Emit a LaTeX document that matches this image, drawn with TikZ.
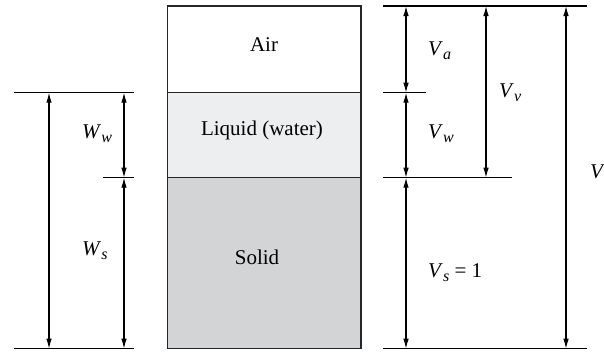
\documentclass[tikz,border=0pt]{standalone}
\usepackage{fontspec}
\setmainfont{Liberation Serif}
\usetikzlibrary{arrows.meta, positioning}
\definecolor{liquidgray}{HTML}{EDEEF0}
\definecolor{solidgray}{HTML}{D3D4D6}
\newcommand{\dimlbl}[2]{\textit{#1}\raisebox{-0.22em}{\fontsize{16}{16}\selectfont\textit{#2}}}

\begin{document}
\begin{tikzpicture}[x=1pt, y=-1pt, font=\fontsize{21}{25}\selectfont]
    \tikzstyle{phase} = [rectangle, draw=black!85, line width=1.3pt,
        outer sep=0pt, inner sep=0pt, minimum width=193.5pt]
    \tikzstyle{refline} = [draw, line width=1.1pt, -]
    \tikzstyle{dim} = [draw, line width=1.1pt,
        {Latex[length=10pt,width=5.5pt]}-{Latex[length=10pt,width=5.5pt]}]
    \tikzstyle{lbl} = [anchor=base west, inner sep=0pt]

    \useasboundingbox (0,0) rectangle (604,354);
    \node [phase, minimum height=86.7pt] (air) at (264.25,49.35) {};
    \node [phase, fill=liquidgray, minimum height=85pt, below=0pt of air] (liquid) {};
    \node [phase, fill=solidgray, minimum height=171pt, below=0pt of liquid] (solid) {};
    \node (airtxt) at (264,45) {Air};
    \node (liqtxt) at (262,130) {Liquid (water)};
    \node (soltxt) at (257,257) {Solid};
    %
    \coordinate [left=33.5pt of liquid.north west] (wtr);
    \coordinate [left=120pt of wtr] (wtl);
    \coordinate [left=33.5pt of solid.north west] (wmr);
    \coordinate [left=31pt of wmr] (wml);
    \coordinate [left=33.5pt of solid.south west] (wbr);
    \coordinate [left=120pt of wbr] (wbl);
    \path [refline] (wtl) -- (wtr);
    \path [refline] (wml) -- (wmr);
    \path [refline] (wbl) -- (wbr);
    \coordinate [right=35pt of wtl] (wa1);
    \coordinate [right=35pt of wbl] (wa2);
    \coordinate [left=10pt of wtr] (wb1);
    \coordinate [left=10pt of wmr] (wb2);
    \coordinate [left=10pt of wbr] (wb3);
    \path [dim] (wa1) -- (wa2);
    \path [dim] (wb1) -- (wb2);
    \path [dim] (wb2) -- (wb3);
    \node [lbl] (lww) at (82,138) {\dimlbl{W}{w}};
    \node [lbl] (lws) at (82,255) {\dimlbl{W}{s}};
    %
    \coordinate [right=22pt of air.north east] (vtl);
    \coordinate [right=204pt of vtl] (vtr);
    \coordinate [right=22pt of liquid.north east] (vml);
    \coordinate [right=43pt of vml] (vmr);
    \coordinate [right=22pt of solid.north east] (vsl);
    \coordinate [right=129pt of vsl] (vsr);
    \coordinate [right=22pt of solid.south east] (vbl);
    \coordinate [right=204pt of vbl] (vbr);
    \path [refline] (vtl) -- (vtr);
    \path [refline] (vml) -- (vmr);
    \path [refline] (vsl) -- (vsr);
    \path [refline] (vbl) -- (vbr);
    \coordinate [right=23pt of vtl] (va1);
    \coordinate [right=23pt of vml] (va2);
    \coordinate [right=23pt of vsl] (va3);
    \coordinate [right=23pt of vbl] (va4);
    \path [dim] (va1) -- (va2);
    \path [dim] (va2) -- (va3);
    \path [dim] (va3) -- (va4);
    \coordinate [right=103pt of vtl] (vv1);
    \coordinate [right=103pt of vsl] (vv2);
    \path [dim] (vv1) -- (vv2);
    \coordinate [right=183pt of vtl] (vt1);
    \coordinate [right=183pt of vbl] (vt2);
    \path [dim] (vt1) -- (vt2);
    \node [lbl] (lva) at (428,55) {\dimlbl{V}{a}};
    \node [lbl] (lvw) at (428,138) {\dimlbl{V}{w}};
    \node [lbl] (lvv) at (499,97) {\dimlbl{V}{v}};
    \node [lbl] (lv) at (590,178) {\textit{V}};
    \node [lbl] (lvs) at (428,277) {\dimlbl{V}{s} = 1};
\end{tikzpicture}
\end{document}
